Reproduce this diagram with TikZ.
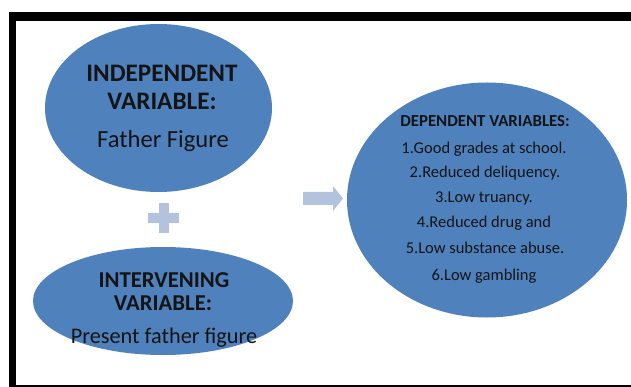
\documentclass[tikz,border=0pt]{standalone}
\usepackage{fontspec}
\setmainfont{Carlito}
\usetikzlibrary{shapes.geometric,calc}
\definecolor{ellblue}{HTML}{4F81BD}
\definecolor{lightblue}{HTML}{B3C3DE}
\definecolor{txt}{HTML}{141414}
\tikzset{
  ell/.style={ellipse, fill=ellblue, draw=none, inner sep=0pt},
  topbold/.style={font=\fontsize{25.2}{28}\selectfont\bfseries, text=txt, anchor=base, inner sep=0pt},
  topreg/.style={font=\fontsize{24.6}{28}\selectfont, text=txt, anchor=base, inner sep=0pt},
  botbold/.style={font=\fontsize{22.7}{26}\selectfont\bfseries, text=txt, anchor=base, inner sep=0pt},
  botreg/.style={font=\fontsize{22.3}{26}\selectfont, text=txt, anchor=base, inner sep=0pt},
  smbold/.style={font=\fontsize{16.8}{18}\selectfont\bfseries, text=txt, anchor=base, inner sep=0pt},
  smreg/.style={font=\fontsize{16.5}{18}\selectfont, text=txt, anchor=base, inner sep=0pt},
  sign/.style={fill=lightblue, draw=none}
}
\begin{document}
\begin{tikzpicture}[x=1pt,y=-1pt]
\useasboundingbox (0,0) rectangle (631,387);
% frame
\fill[black] (8.5,12) rectangle (631,21);
\fill[black] (8.5,12) rectangle (15.5,387);
\fill[black] (8.5,384.8) rectangle (631,386.6);
% ellipses
\node[ell, minimum width=227pt, minimum height=168pt] (indep) at (158.5,108) {};
\node[ell, minimum width=260pt, minimum height=108pt] (interv) at (163,301) {};
\node[ell, minimum width=280pt, minimum height=235pt] (dep) at (487,200) {};
% texts top
\node[topbold] (t1) at (162,82) {INDEPENDENT};
\node[topbold] (t2) at (162,110) {VARIABLE:};
\node[topreg] (t3) at (163,148) {Father Figure};
% texts bottom
\node[botbold] (b1) at (164,287) {INTERVENING};
\node[botbold] (b2) at (163,310) {VARIABLE:};
\node[botreg] (b3) at (164,343) {Present father figure};
% texts right
\node[smbold] (d0) at (485,127) {DEPENDENT VARIABLES:};
\node[smreg] (d1) at (484,154) {1.Good grades at school.};
\node[smreg] (d2) at (485,178) {2.Reduced deliquency.};
\node[smreg] (d3) at (484,203) {3.Low truancy.};
\node[smreg] (d4) at (484,228) {4.Reduced drug  and};
\node[smreg] (d5) at (485,254) {5.Low substance abuse.};
\node[smreg] (d6) at (484,280) {6.Low gambling};
% plus sign
\coordinate (pc) at (163.5,218);
\fill[sign] ($(pc)+(-15.5,-5)$) rectangle ($(pc)+(15.5,5)$);
\fill[sign] ($(pc)+(-5,-15)$) rectangle ($(pc)+(5,15)$);
% arrow
\fill[sign] (303,192) -- (333,192) -- (333,186) -- (343,198.5) -- (333,211) -- (333,205) -- (303,205) -- cycle;
\end{tikzpicture}
\end{document}
